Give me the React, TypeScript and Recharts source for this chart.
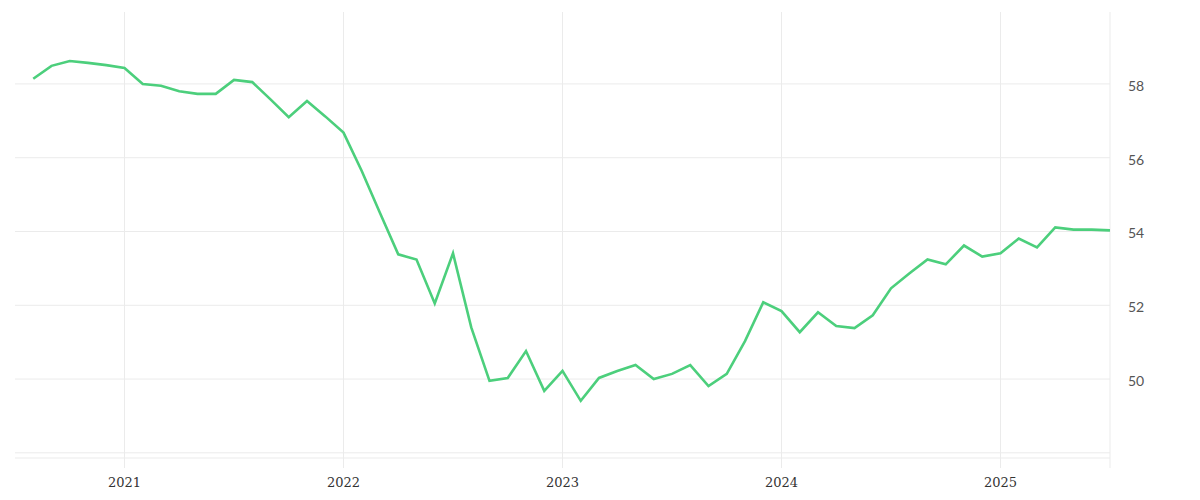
import { LineChart, Line, XAxis, YAxis, CartesianGrid } from "recharts";

const months = [
  "2020-08", "2020-09", "2020-10", "2020-11", "2020-12",
  "2021-01", "2021-02", "2021-03", "2021-04", "2021-05", "2021-06",
  "2021-07", "2021-08", "2021-09", "2021-10", "2021-11", "2021-12",
  "2022-01", "2022-02", "2022-03", "2022-04", "2022-05", "2022-06",
  "2022-07", "2022-08", "2022-09", "2022-10", "2022-11", "2022-12",
  "2023-01", "2023-02", "2023-03", "2023-04", "2023-05", "2023-06",
  "2023-07", "2023-08", "2023-09", "2023-10", "2023-11", "2023-12",
  "2024-01", "2024-02", "2024-03", "2024-04", "2024-05", "2024-06",
  "2024-07", "2024-08", "2024-09", "2024-10", "2024-11", "2024-12",
  "2025-01", "2025-02", "2025-03", "2025-04", "2025-05", "2025-06",
  "2025-07",
];

const values = [
  58.14, 58.49, 58.62, 58.57, 58.51,
  58.43, 58.0, 57.95, 57.8, 57.73, 57.73,
  58.11, 58.05, 57.58, 57.1, 57.54, 57.12,
  56.68, 55.64, 54.5, 53.38, 53.24, 52.05,
  53.41, 51.4, 49.95, 50.03, 50.76, 49.68,
  50.22, 49.41, 50.03, 50.22, 50.38, 50.0,
  50.14, 50.38, 49.81, 50.14, 51.03, 52.08,
  51.84, 51.27, 51.81, 51.44, 51.38, 51.73,
  52.46, 52.86, 53.24, 53.11, 53.62, 53.32,
  53.41, 53.81, 53.57, 54.11, 54.05, 54.05,
  54.03,
];

const yearTicks = ["2021-01", "2022-01", "2023-01", "2024-01", "2025-01", "2025-07"];
const valueTicks = [48, 50, 52, 54, 56, 58];

const data = months.map((m, i) => ({ idx: i, month: m, value: values[i] }));
const xTicks = yearTicks.map((t) => months.indexOf(t));

const gridColor = "#ebebeb";

const formatYear = (idx: number) => {
  const m = months[idx];
  if (!m || !m.endsWith("-01")) return "";
  return m.slice(0, 4);
};

export default function App() {
  return (
    <div style={{ position: "absolute", left: 0, top: 0 }}>
      <LineChart
        width={1200}
        height={500}
        data={data}
        margin={{ top: 12, right: 0, bottom: 0, left: 15 }}
      >
        {/* syncWithTicks: no extra lines at the plot edges */}
        <CartesianGrid stroke={gridColor} syncWithTicks />
        <XAxis
          dataKey="idx"
          type="number"
          domain={[-1, months.length - 1]}
          ticks={xTicks}
          tickFormatter={formatYear}
          height={42}
          axisLine={{ stroke: gridColor }}
          tickLine={{ stroke: gridColor }}
          tickSize={10}
          tickMargin={10}
          tick={{ fill: "#333", fontSize: 13, fontFamily: "'DejaVu Serif', serif" }}
        />
        <YAxis
          orientation="right"
          type="number"
          domain={[47.86, 59.95]}
          ticks={valueTicks}
          tickFormatter={(v: number) => (v === 48 ? "" : String(v))}
          width={90}
          axisLine={false}
          tickLine={false}
          tickSize={0}
          tickMargin={18}
          allowDataOverflow
          tick={{ fill: "#555", fontSize: 14, fontFamily: "Lato, sans-serif", textAnchor: "start", dy: 2 }}
        />
        <Line
          type="linear"
          dataKey="value"
          stroke="#4ccf7c"
          strokeWidth={2.6}
          dot={false}
          isAnimationActive={false}
        />
      </LineChart>
    </div>
  );
}
